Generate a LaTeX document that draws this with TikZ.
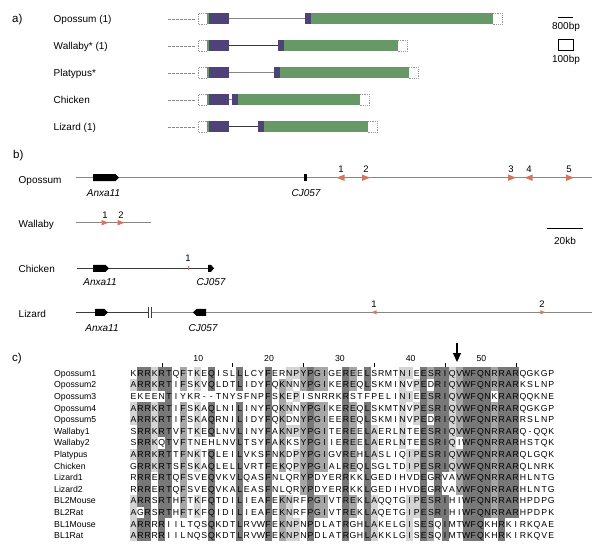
\documentclass[tikz,border=0pt]{standalone}
\usepackage{fontspec}
\setmainfont{Liberation Sans}
\definecolor{exonP}{RGB}{78,66,120}
\definecolor{exonG}{RGB}{102,153,102}
\definecolor{arrc}{RGB}{212,118,94}
\definecolor{shade1}{gray}{0.83}
\definecolor{shade2}{gray}{0.65}
\definecolor{shade3}{gray}{0.47}
\definecolor{lgray}{RGB}{135,135,135}
\definecolor{dgray}{RGB}{60,60,60}
\definecolor{dotc}{RGB}{150,150,150}

% column consensus residue / shade level
\newcount\cci
\def\colwalk#1#2{\ifx#1\relax\else\global\advance\cci by 1 \expandafter\xdef\csname cc@\the\cci\endcsname{#1}\expandafter\xdef\csname cl@\the\cci\endcsname{#2}\expandafter\colwalk\fi}
\colwalk A1R3R3K1R3T3X0F2X0K1X0Q3X0X0X0L3X0X0X0F3X0K2N1P1Y2P3G2I2X0X0R3E2X0L3A1X0X0X0N1I1P1E3S2R3I3Q1V2W3F3Q3N3R2R3A3R3\relax\relax

\newcount\alncol
\def\alnrow#1#2#3{%
  \pgfmathsetmacro\alny{373.2+#1*11.6}%
  \node[seqlbl] (lab#1) at (54,\alny+3.1) {#2};%
  \global\alncol=0
  \alnwalk#3\relax}
\def\alnwalk#1{\ifx#1\relax\let\alnnext\relax\else\def\alnnext{\alncell#1\alnwalk}\fi\alnnext}
\def\alncell#1{%
  \global\advance\alncol by 1
  \ifnum\alncol<56
    \edef\alncc{\csname cc@\the\alncol\endcsname}%
    \edef\alncl{\csname cl@\the\alncol\endcsname}%
  \else
    \def\alncc{X}\def\alncl{0}%
  \fi
  \def\alnch{#1}%
  \pgfmathsetmacro\alnx{130+(\the\alncol-0.5)*7.08}%
  \ifx\alnch\alncc\ifnum\alncl>0 \fill[shade\alncl] (\alnx-3.55,\alny-5.82) rectangle (\alnx+3.55,\alny+5.82);\fi\fi
  \node[res] at (\alnx,\alny+3.1) {#1};%
}

\newcommand\TriR[3]{\fill[arrc] (#1-#3,#2-#3*0.8) -- (#1+#3,#2) -- (#1-#3,#2+#3*0.8) -- cycle;}
\newcommand\TriL[3]{\fill[arrc] (#1+#3,#2-#3*0.8) -- (#1-#3,#2) -- (#1+#3,#2+#3*0.8) -- cycle;}

\newcommand\exstart[1]{%
  \draw[dashline] (168,#1) -- (196,#1);
  \draw[dotline] (207,#1-5.5) -- (198.5,#1-5.5) -- (198.5,#1+5.5) -- (207,#1+5.5);
  \fill[exonG] (206.5,#1-5.5) rectangle (209,#1+5.5);
  \fill[exonP] (209,#1-5.5) rectangle (229,#1+5.5);}
\newcommand\exend[2]{%
  \draw[dotline] (#2,#1-5.5) -- (#2+9,#1-5.5) -- (#2+9,#1+5.5) -- (#2,#1+5.5);}

\tikzset{
  lbl/.style={font=\fontsize{10}{12}\selectfont, anchor=base west, inner sep=0pt},
  panel/.style={font=\fontsize{11.5}{13}\selectfont, anchor=base west, inner sep=0pt},
  gl/.style={font=\fontsize{10}{12}\selectfont\itshape, anchor=base, inner sep=0pt},
  num/.style={font=\fontsize{9.5}{11}\selectfont, anchor=base, inner sep=0pt},
  numc/.style={font=\fontsize{8.7}{10}\selectfont, anchor=base, inner sep=0pt},
  seqlbl/.style={font=\fontsize{8.7}{10}\selectfont, anchor=base west, inner sep=0pt},
  res/.style={font=\fontsize{8.7}{10}\selectfont, anchor=base, inner sep=0pt},
  dashline/.style={lgray, line width=0.7pt, dash pattern=on 2.5pt off 1.5pt},
  dotline/.style={dotc, line width=0.5pt, dash pattern=on 0.6pt off 1.2pt},
  intronL/.style={lgray, line width=1pt},
  intronD/.style={dgray, line width=1pt},
  chrom/.style={lgray, line width=1.1pt},
  chromD/.style={dgray, line width=1pt},
}

\begin{document}
\begin{tikzpicture}[x=1pt,y=-1pt]
\useasboundingbox (0,0) rectangle (600,548);
\fill[white] (0,0) rectangle (600,548);

%% ---------------- panel a ----------------
\node[panel] (pa) at (12,22.5) {a)};
\node[lbl] (a1) at (53.5,22.7) {Opossum (1)};
\node[lbl] (a2) at (53.5,49.7) {Wallaby* (1)};
\node[lbl] (a3) at (53.5,76.7) {Platypus*};
\node[lbl] (a4) at (53.5,103.7) {Chicken};
\node[lbl] (a5) at (53.5,130.7) {Lizard (1)};

% Opossum
\exstart{19}
\draw[intronL] (229,19) -- (305,19);
\fill[exonP] (305,13.5) rectangle (311,24.5);
\fill[exonG] (311,13.5) rectangle (493,24.5);
\exend{19}{493}
% Wallaby
\exstart{46}
\draw[intronD] (229,46) -- (278,46);
\fill[exonP] (278,40.5) rectangle (284,51.5);
\fill[exonG] (284,40.5) rectangle (398,51.5);
\exend{46}{398}
% Platypus
\exstart{73}
\draw[intronL] (229,73) -- (274,73);
\fill[exonP] (274,67.5) rectangle (280,78.5);
\fill[exonG] (280,67.5) rectangle (409,78.5);
\exend{73}{409}
% Chicken
\exstart{100}
\draw[intronL] (229,100) -- (232,100);
\fill[exonP] (232,94.5) rectangle (238,105.5);
\fill[exonG] (238,94.5) rectangle (360,105.5);
\exend{100}{360}
% Lizard
\exstart{127}
\draw[intronD] (229,127) -- (258,127);
\fill[exonP] (258,121.5) rectangle (264,132.5);
\fill[exonG] (264,121.5) rectangle (368,132.5);
\exend{127}{368}

% legend
\draw[black, line width=0.8pt] (558,17.3) -- (573,17.3);
\node[num, font=\fontsize{10}{12}\selectfont] (l800) at (566,29.3) {800bp};
\draw[black, line width=0.8pt] (558,39.3) rectangle (573,50.7);
\node[num, font=\fontsize{10}{12}\selectfont] (l100) at (566,62.7) {100bp};

%% ---------------- panel b ----------------
\node[panel] (pb) at (13,159) {b)};
\node[lbl] (b1) at (18.5,183.3) {Opossum};
\node[lbl] (b2) at (18.5,228) {Wallaby};
\node[lbl] (b3) at (18.5,272.7) {Chicken};
\node[lbl] (b4) at (18.5,317.7) {Lizard};

% Opossum
\draw[chrom] (76,177.7) -- (592,177.7);
\fill[black] (93,174.2) -- (115.5,174.2) -- (119,177.7) -- (115.5,181.2) -- (93,181.2) -- cycle;
\fill[black] (303.5,174.2) rectangle (306.8,181.2);
\node[gl] (g1) at (103.5,197) {Anxa11};
\node[gl] (g2) at (306,197) {CJ057};
\TriL{340.5}{177.7}{4}
\TriR{366}{177.7}{4}
\TriR{512}{177.7}{4}
\TriL{528.5}{177.7}{4}
\TriR{570}{177.7}{4}
\node[num] (o1) at (341,172.3) {1};
\node[num] (o2) at (366,172.3) {2};
\node[num] (o3) at (511,172.3) {3};
\node[num] (o4) at (529,172.3) {4};
\node[num] (o5) at (569,172.3) {5};

% Wallaby
\draw[chrom] (76,222.7) -- (151,222.7);
\TriR{105}{222.7}{3.5}
\TriR{121}{222.7}{3.5}
\node[num] (w1) at (105,219) {1};
\node[num] (w2) at (121,219) {2};

% scale bar
\draw[black, line width=0.8pt] (547,228) -- (583,228);
\node[num, font=\fontsize{10}{12}\selectfont] (kb) at (565,245) {20kb};

% Chicken
\draw[chromD] (77,268.3) -- (212,268.3);
\fill[black] (93,264.8) -- (105.5,264.8) -- (109,268.3) -- (105.5,271.8) -- (93,271.8) -- cycle;
\fill[black] (208,264.8) -- (211,264.8) -- (214,268.3) -- (211,271.8) -- (208,271.8) -- cycle;
\draw[arrc, line width=1pt] (188,266.3) -- (188,270.3);
\node[num] (c1) at (188,261.7) {1};
\node[gl] (g3) at (100,285.7) {Anxa11};
\node[gl] (g4) at (211,285.7) {CJ057};

% Lizard
\draw[chromD] (76,312.3) -- (148.5,312.3);
\draw[chrom] (151.5,312.3) -- (592,312.3);
\draw[dgray, line width=0.8pt] (148.5,306.8) -- (148.5,317.8);
\draw[dgray, line width=0.8pt] (151.5,306.8) -- (151.5,317.8);
\fill[black] (95,308.8) -- (104.5,308.8) -- (108,312.3) -- (104.5,315.8) -- (95,315.8) -- cycle;
\fill[black] (193,312.3) -- (196.5,308.8) -- (206,308.8) -- (206,315.8) -- (196.5,315.8) -- cycle;
\node[gl] (g5) at (102,331) {Anxa11};
\node[gl] (g6) at (203,331) {CJ057};
\TriL{374}{312.3}{2.6}
\TriR{543}{312.3}{2.6}
\node[num] (z1) at (374,307.3) {1};
\node[num] (z2) at (542,307.3) {2};

%% ---------------- panel c ----------------
\node[panel] (pc) at (12,361.5) {c)};
\foreach \c in {5,15,25,35,45,55} \draw[black, line width=0.6pt] ({130+(\c-0.5)*7.08},363) -- ++(0,4);
\foreach \c in {10,20,30,40,50} \node[numc] at ({131+(\c-0.5)*7.08},361) {\c};
\draw[black, line width=1.6pt] (457,343) -- (457,354);
\fill[black] (452.8,353) -- (461.2,353) -- (457,362) -- cycle;

\alnrow{0}{Opossum1}{KRRKRTQFTKEQISLLLCYFERNPYPGIGEREELSRMTNIEESRIQVWFQNRRARQGKGP}
\alnrow{1}{Opossum2}{ARRKRTIFSKVQLDTLIDYFQKNNYPGIKEREQLSKMINVPEDRIQVWFQNRRARKSLNP}
\alnrow{2}{Opossum3}{EKEENTIYKR--TNYSFNPFSKEPISNRRKRSTFPELINIEESRIQVWFQNKRARQQKNE}
\alnrow{3}{Opossum4}{ARRKRTIFSKAQLNILINYFQKNNYPGIKEREQLSKMTNVPESRIQVWFQNRRARQGKGP}
\alnrow{4}{Opossum5}{ARRKRTIFSKAQRNILIDYFQKDNYPGIEEREQLSKMINVPEDRIQVWFQNRRARRSLNP}
\alnrow{5}{Wallaby1}{SRRKRTVFTKEQLNVLINYFAKNPYPGITEREELAERLNTEESRIQVWFQNRRARQ-QQK}
\alnrow{6}{Wallaby2}{SRRKQTVFTNEHLNVLTSYFAKKSYPGIIEREELAERLNTEESRIQIWFQNRRARHSTQK}
\alnrow{7}{Platypus}{ARRKRTTFNKTQLEILVKSFNKDPYPGIGVREHLASLIQIPESRIQVWFQNRRARQLGQK}
\alnrow{8}{Chicken}{GRRKRTSFSKAQLELLVRTFEKQPYPGIALREQLSGLTDIPESRIQVWFQNRRARQLNRK}
\alnrow{9}{Lizard1}{RRRERTQFSVEQVKVLQASFNLQRYPDYERRKKLGEDIHVDEGRVAVWFQNRRARHLNTG}
\alnrow{10}{Lizard2}{RRRERTQFSVEQVKALEASFNLQRYPDYERRKKLGEDIHVDEGRVAVWFQNRRARHLNTG}
\alnrow{11}{BL2Mouse}{ARRSRTHFTKFQTDILIEAFEKNRFPGIVTREKLAQQTGIPESRIHIWFQNRRARHPDPG}
\alnrow{12}{BL2Rat}{AGRSRTHFTKFQIDILIEAFEKNRFPGIVTREKLAQETGIPESRIHIWFQNRRARHPDPK}
\alnrow{13}{BL1Mouse}{ARRRRIILTQSQKDTLRVWFEKNPNPDLATRGHLAKELGISESQIMTWFQKHRKIRKQAE}
\alnrow{14}{BL1Rat}{ARRRRIILNQSQKDTLRVWFEKNPNPDLATRGHLAKKLGISESQIMTWFQKHRKIRKQVE}
\end{tikzpicture}
\end{document}
